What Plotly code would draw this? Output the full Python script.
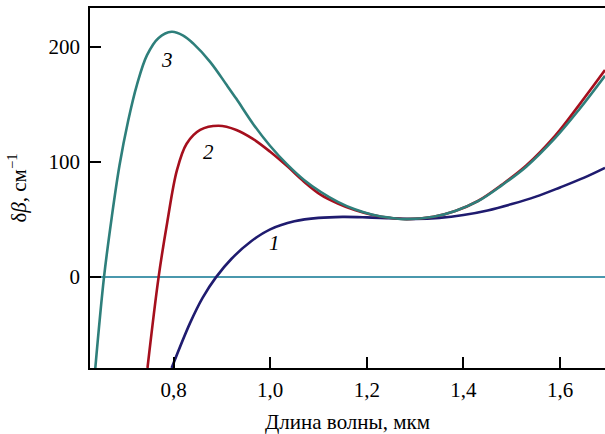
import plotly.graph_objects as go

# Curve 1 (navy)
lam1 = [0.796, 0.834, 0.860, 0.888, 0.920, 0.960, 1.000, 1.050, 1.100, 1.150, 1.200, 1.250, 1.300,
        1.350, 1.400, 1.450, 1.500, 1.550, 1.600, 1.650, 1.693]
db1 = [-79, -40, -18, 0, 16, 31, 41.5, 48.5, 51.5, 52.4, 52, 51.2, 50.6,
       51.5, 54, 58, 63.5, 70, 78, 86.5, 95]

# Curve 2 (red)
lam2 = [0.746, 0.769, 0.787, 0.807, 0.827, 0.855, 0.893, 0.930, 0.965, 1.000, 1.035, 1.070, 1.105,
        1.140, 1.175, 1.210, 1.250, 1.283, 1.338, 1.383, 1.430, 1.480, 1.530, 1.590, 1.640, 1.693]
db2 = [-79, 0, 48, 93, 116, 128, 131.6, 128, 120, 109, 96.5, 83, 71.5,
       64, 58.3, 54.3, 51.4, 50.4, 52.5, 57.5, 66.2, 80.5, 97, 123, 150, 180]

# Curve 3 (teal)
lam3 = [0.638, 0.656, 0.672, 0.688, 0.706, 0.724, 0.745, 0.769, 0.796, 0.820, 0.841, 0.876, 0.910,
        0.930, 0.965, 1.000, 1.035, 1.070, 1.105, 1.140, 1.175, 1.210, 1.250, 1.283, 1.338, 1.383,
        1.430, 1.480, 1.530, 1.590, 1.640, 1.693]
db3 = [-79, 0, 52, 97, 136, 167, 193, 208, 213.3, 210, 203, 187, 167,
       155, 133, 114, 98, 84.5, 74, 65.5, 59, 54.5, 51.5, 50.4, 52.5, 57.5,
       66, 80, 96, 121, 146, 175]

x_ticks = [0.8, 1.0, 1.2, 1.4, 1.6]
x_ticktext = ["0,8", "1,0", "1,2", "1,4", "1,6"]
y_ticks = [0, 100, 200]
y_ticktext = ["0", "100", "200"]

labels = ["1", "2", "3"]
label_x = [1.008, 0.872, 0.787]
label_y = [29.6, 109, 189]

FONT = "Liberation Serif, Times New Roman, serif"
FS = 21

fig = go.Figure()
for lam, db, col in [(lam1, db1, "#1f1b6f"), (lam2, db2, "#a50f1d"), (lam3, db3, "#2e7f7b")]:
    fig.add_trace(go.Scatter(x=lam, y=db, mode="lines",
                             line=dict(color=col, width=2.6, shape="spline", smoothing=1.0),
                             showlegend=False, hoverinfo="skip"))

for t, xx, yy in zip(labels, label_x, label_y):
    fig.add_annotation(x=xx, y=yy, text=f"<i>{t}</i>", showarrow=False,
                       font=dict(family=FONT, size=FS, color="black"))

fig.update_layout(
    width=605, height=434,
    margin=dict(l=90, r=0, t=8, b=66),
    plot_bgcolor="white", paper_bgcolor="white",
    font=dict(family=FONT, size=FS, color="black"),
    xaxis=dict(range=[0.627, 1.693], showgrid=False, zeroline=False,
               showline=True, linecolor="black", linewidth=1.5, mirror=True,
               ticks="inside", ticklen=11, tickwidth=1.5, tickcolor="black",
               tickvals=x_ticks, ticktext=x_ticktext, ticklabelstandoff=2,
               tickfont=dict(family=FONT, size=FS),
               title=dict(text="Длина волны, мкм", standoff=14, font=dict(family=FONT, size=FS))),
    yaxis=dict(range=[-79, 234], showgrid=False,
               zeroline=True, zerolinecolor="#4a98ad", zerolinewidth=2,
               showline=True, linecolor="black", linewidth=1.5,
               ticks="inside", ticklen=11, tickwidth=1.5, tickcolor="black",
               tickvals=y_ticks, ticktext=y_ticktext, ticklabelstandoff=4,
               tickfont=dict(family=FONT, size=FS),
               title=dict(text="δ<i>β</i>, см<sup>−1</sup>", standoff=16, font=dict(family=FONT, size=FS))),
)

fig.write_html("out.html")
